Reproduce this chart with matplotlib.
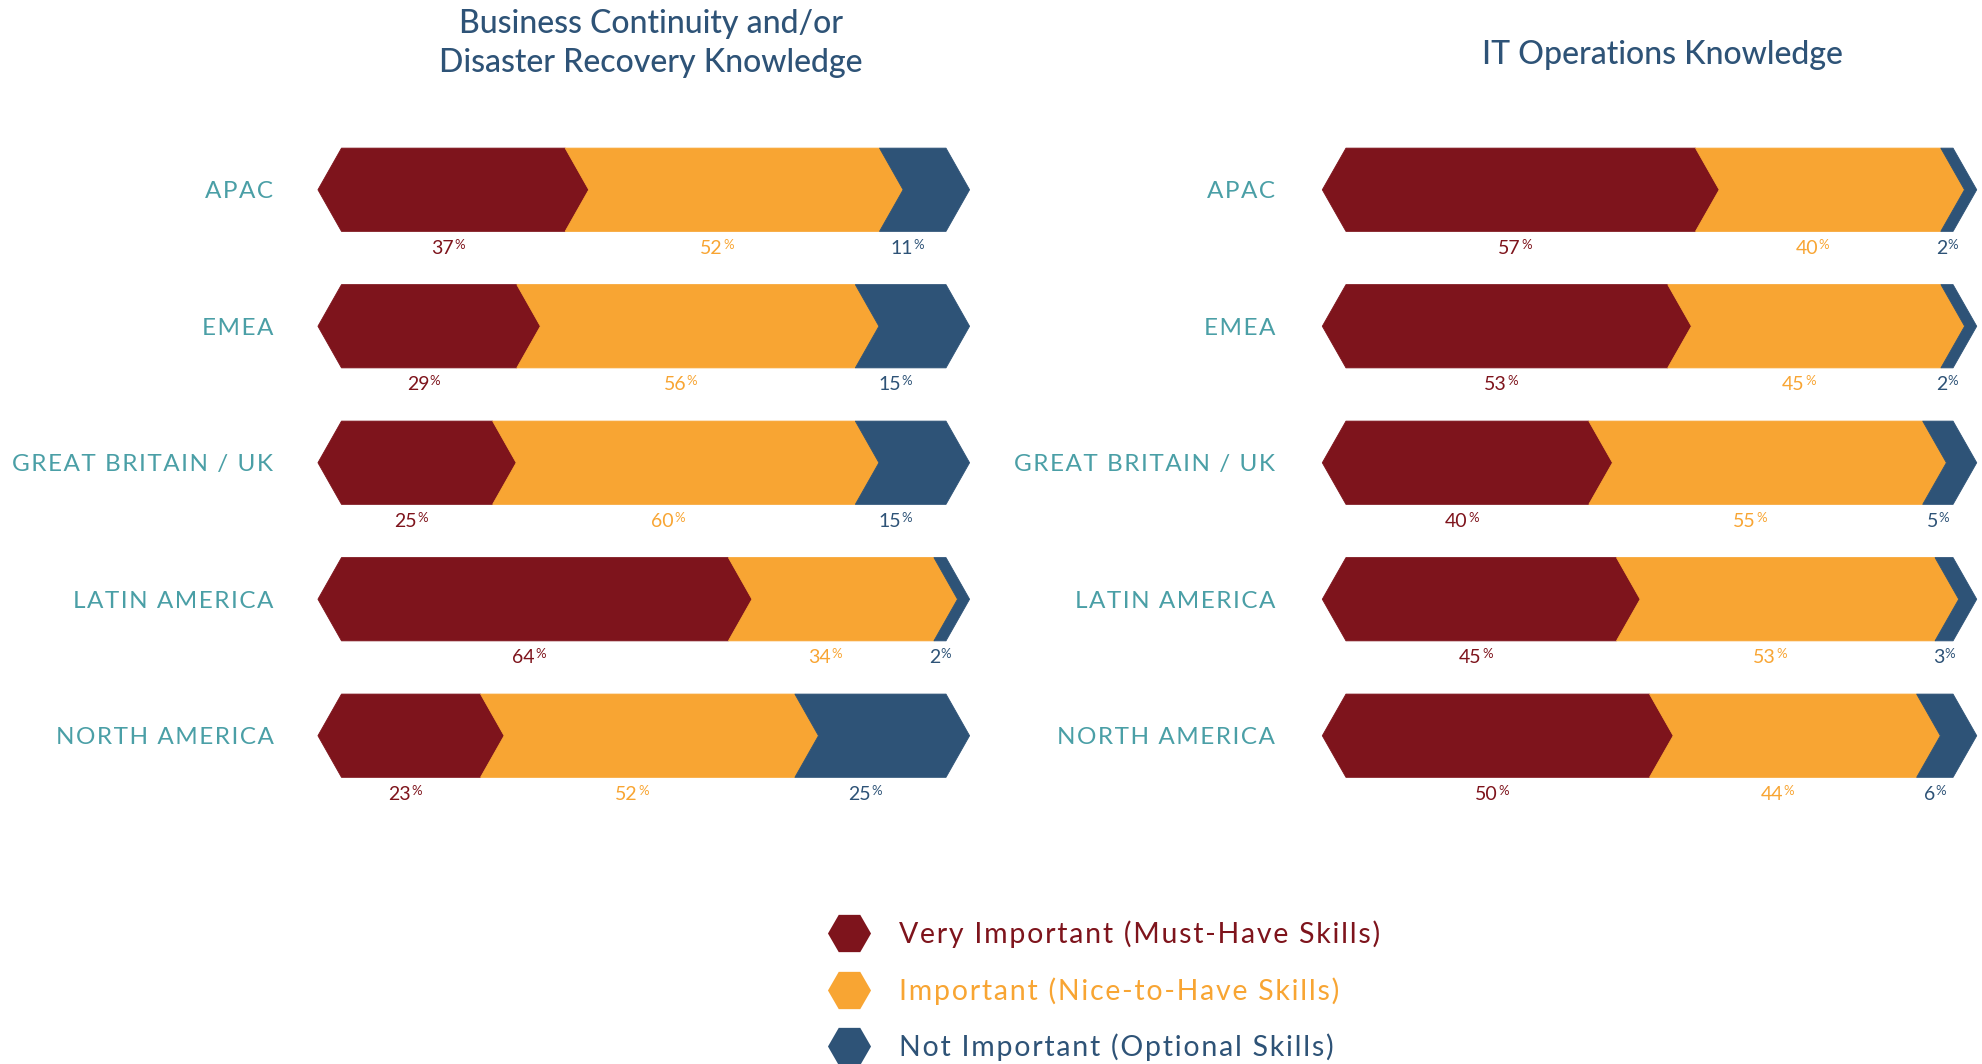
"""Skill importance by region — chevron stacked bars, two panels."""
import matplotlib
matplotlib.use("Agg")
import matplotlib.pyplot as plt
from matplotlib.patches import Polygon
from matplotlib.lines import Line2D

plt.rcParams.update({"font.family": ["Lato", "DejaVu Sans"]})

regions = ["APAC", "EMEA", "GREAT BRITAIN / UK", "LATIN AMERICA", "NORTH AMERICA"]
levels = ["Very Important (Must-Have Skills)", "Important (Nice-to-Have Skills)",
          "Not Important (Optional Skills)"]

# left panel: Business Continuity and/or Disaster Recovery Knowledge
bc_very = [37, 29, 25, 64, 23]
bc_imp = [52, 56, 60, 34, 52]
bc_not = [11, 15, 15, 2, 25]

# right panel: IT Operations Knowledge
it_very = [57, 53, 40, 45, 50]
it_imp = [40, 45, 55, 53, 44]
it_not = [2, 2, 5, 3, 6]

C_RED, C_ORG, C_BLU = "#7e141c", "#f8a533", "#2e5377"
C_TEAL, C_TITLE = "#4a9fa6", "#2e5377"
colors = [C_RED, C_ORG, C_BLU]

DEPTH = 3.9     # chevron point depth, in percent units
HALF = 0.305    # half bar height, in category units


def track(s):
    # poor man's letter spacing
    return "\u200a".join(s)


def chevron(ax, start, end, y, color, first):
    left = start - DEPTH if first else start + DEPTH
    pts = [(start, y - HALF), (end, y - HALF), (end + DEPTH, y),
           (end, y + HALF), (start, y + HALF), (left, y)]
    ax.add_patch(Polygon(pts, closed=True, facecolor=color, edgecolor=color,
                         linewidth=0.6, clip_on=False, zorder=2))


def panel(ax, series, label_pad):
    for i in range(len(regions)):
        vals = [s[i] for s in series]
        total = sum(vals)
        start = 0.0
        for k, (v, c) in enumerate(zip(vals, colors)):
            w = v / total * 100
            chevron(ax, start, start + w, i, c, k == 0)
            cx = start + w / 2
            ax.annotate(f"{v}", (cx, i), xytext=(0, -42), textcoords="offset points",
                        ha="right", va="center", fontsize=14, color=c)
            ax.annotate("%", (cx, i), xytext=(0.5, -39.5), textcoords="offset points",
                        ha="left", va="center", fontsize=9.5, color=c)
            start += w
    ax.set_xlim(0, 100)
    ax.set_ylim(len(regions) - 0.5, -0.5)
    ax.set_yticks(range(len(regions)), [track(r) for r in regions])
    ax.tick_params(axis="y", length=0, pad=label_pad, labelsize=17.5, labelcolor=C_TEAL)
    ax.set_xticks([])
    for sp in ax.spines.values():
        sp.set_visible(False)
    ax.patch.set_alpha(0)


fig = plt.figure(figsize=(19.82, 10.64), dpi=100)
axL = fig.add_axes([0.1723, 0.2444, 0.305, 0.6414])
axR = fig.add_axes([0.6791, 0.2444, 0.3063, 0.6414])
panel(axL, [bc_very, bc_imp, bc_not], 49)
panel(axR, [it_very, it_imp, it_not], 51)

fig.text(0.3285, 0.959, "Business Continuity and/or\nDisaster Recovery Knowledge",
         ha="center", va="center", fontsize=23, fontweight="medium", color=C_TITLE,
         linespacing=1.35)
fig.text(0.839, 0.948, "IT Operations Knowledge",
         ha="center", va="center", fontsize=23, fontweight="medium", color=C_TITLE)

handles = [Line2D([], [], marker="H", linestyle="", markersize=31, color=c,
                  markeredgewidth=0) for c in colors]
leg = fig.legend(handles, [track(s) for s in levels], loc="upper left",
                 bbox_to_anchor=(0.418, 0.135), frameon=False, fontsize=20.5,
                 handlelength=1.46, handletextpad=1.0, labelspacing=1.02,
                 borderpad=0, borderaxespad=0)
for t, c in zip(leg.get_texts(), colors):
    t.set_color(c)

fig.savefig("out.png", dpi=100)
